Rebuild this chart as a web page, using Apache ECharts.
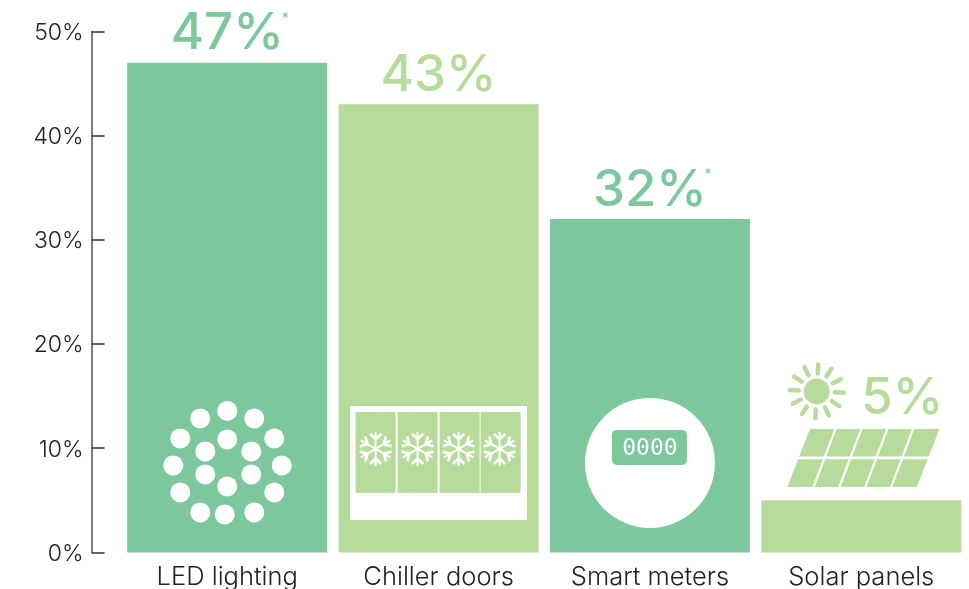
<!DOCTYPE html>
<html>
<head>
<meta charset="utf-8">
<style>html,body{margin:0;padding:0;background:#fff}#chart{width:969px;height:589px}</style>
<script src="https://cdn.jsdelivr.net/npm/echarts@6/dist/echarts.min.js"></script>
</head>
<body>
<div id="chart"></div>
<script>
const categories = ['LED lighting', 'Chiller doors', 'Smart meters', 'Solar panels'];
const savings = [47, 43, 32, 5];
const footnoted = [true, false, true, false];
const yTicks = [0, 10, 20, 30, 40, 50];

const GREEN = '#7DC79C';
const LIME = '#B7DB9A';
const barColors = [GREEN, LIME, GREEN, LIME];
const FONT = 'Inter, "Open Sans", sans-serif';

// LED cluster: bulb centres relative to the bar's centre and baseline
function ledIcon(cx, by) {
  const bulbs = [[0,-141.5],[-27,-134],[27,-134],[-47,-114],[47,-114],[0,-113],[-22,-101],[24,-101],
    [-54,-87],[54.5,-87],[-22,-78],[24,-78],[0,-66],[-47,-60],[47,-60],[-27,-40],[-2.5,-38],[27,-40]];
  return bulbs.map(b => ({
    type: 'circle',
    shape: { cx: cx + b[0], cy: by + b[1], r: 10 },
    style: { fill: '#fff' }
  }));
}

// One six-armed snowflake built from stroked segments
function snowflake(x, y, color) {
  const out = [];
  const seg = (x1, y1, x2, y2, w) => out.push({
    type: 'line',
    shape: { x1, y1, x2, y2 },
    style: { stroke: color, lineWidth: w }
  });
  for (let k = 0; k < 6; k++) {
    const a = Math.PI / 2 + k * Math.PI / 3;
    const ex = x + 17 * Math.cos(a), ey = y - 17 * Math.sin(a);
    seg(x, y, ex, ey, 2);
    const mx = x + 9.5 * Math.cos(a), my = y - 9.5 * Math.sin(a);
    [-1, 1].forEach(s => {
      const b = a + s * Math.PI / 4;
      seg(mx, my, mx + 8 * Math.cos(b), my - 8 * Math.sin(b), 2.7);
    });
  }
  return out;
}

// Chiller cabinet with four glass doors
function chillerIcon(cx, by) {
  const kids = [{
    type: 'rect',
    shape: { x: cx - 88.6, y: by - 146.5, width: 177, height: 114 },
    style: { fill: '#fff' }
  }];
  [-83, -41, 1, 42].forEach(dx => {
    kids.push({
      type: 'rect',
      shape: { x: cx + dx, y: by - 140.5, width: 40, height: 81 },
      style: { fill: LIME }
    });
  });
  [-63, -21, 20, 61].forEach(dx => {
    kids.push(...snowflake(cx + dx, by - 103.5, '#fff'));
  });
  return kids;
}

// Smart meter dial with its digital read-out
function meterIcon(cx, by) {
  return [
    { type: 'circle', shape: { cx, cy: by - 89.5, r: 65 }, style: { fill: '#fff' } },
    {
      type: 'rect',
      shape: { x: cx - 38, y: by - 122.5, width: 75, height: 35, r: 5 },
      style: { fill: GREEN }
    },
    {
      type: 'text',
      style: {
        x: cx, y: by - 103, text: '0000', fill: '#fff',
        font: '23px "DejaVu Sans Mono", monospace',
        align: 'center', verticalAlign: 'middle'
      }
    }
  ];
}

// Sun and tilted solar panel above the short bar
function solarIcon(cx, by) {
  const kids = [];
  const sx = cx - 44.5, sy = by - 161;
  kids.push({ type: 'circle', shape: { cx: sx, cy: sy, r: 13 }, style: { fill: LIME } });
  for (let k = 0; k < 12; k++) {
    const a = (k * 30 + 3) * Math.PI / 180;
    kids.push({
      type: 'line',
      shape: {
        x1: sx + 18 * Math.sin(a), y1: sy - 18 * Math.cos(a),
        x2: sx + 27 * Math.sin(a), y2: sy - 27 * Math.cos(a)
      },
      style: { stroke: LIME, lineWidth: 4.5, lineCap: 'round' }
    });
  }
  const top = by - 123.5, bottom = by - 65.5, skew = 22.7;
  const left = cx - 74, span = 129.5;
  kids.push({
    type: 'polygon',
    shape: { points: [[left + skew, top], [left + skew + span, top], [left + span, bottom], [left, bottom]] },
    style: { fill: LIME }
  });
  kids.push({
    type: 'line',
    shape: { x1: left, y1: (top + bottom) / 2, x2: left + skew + span, y2: (top + bottom) / 2 },
    style: { stroke: '#fff', lineWidth: 2.6 }
  });
  for (let c = 1; c < 5; c++) {
    const off = left + span * c / 5;
    kids.push({
      type: 'line',
      shape: { x1: off, y1: bottom + 1, x2: off + skew, y2: top - 1 },
      style: { stroke: '#fff', lineWidth: 2.2 }
    });
  }
  return kids;
}

const iconBuilders = [ledIcon, chillerIcon, meterIcon, solarIcon];

const chart = echarts.init(document.getElementById('chart'), null, { renderer: 'canvas' });

chart.setOption({
  animation: false,
  backgroundColor: '#fff',
  grid: { left: 121.6, right: 2.07, top: 31.4, bottom: 36.6, outerBoundsMode: 'none' },
  xAxis: {
    type: 'category',
    data: categories,
    axisLine: { show: false },
    axisTick: { show: false },
    axisLabel: { color: '#222', fontFamily: FONT, fontSize: 25.5, fontWeight: 300, margin: 12, interval: 0 }
  },
  yAxis: {
    type: 'value',
    min: yTicks[0],
    max: yTicks[yTicks.length - 1],
    interval: yTicks[1] - yTicks[0],
    offset: 30,
    splitLine: { show: false },
    axisLine: { show: true, lineStyle: { color: '#555', width: 1.5 } },
    axisTick: { show: true, inside: true, length: 13, lineStyle: { color: '#333', width: 1.5 } },
    axisLabel: {
      color: '#222', fontFamily: FONT, fontSize: 23, fontWeight: 300, margin: 8,
      verticalAlign: 'top', lineHeight: 3,
      formatter: v => v + '%'
    }
  },
  series: [
    {
      type: 'bar',
      barWidth: 200,
      data: savings.map((v, i) => ({
        value: v,
        itemStyle: { color: barColors[i] },
        label: {
          color: barColors[i],
          offset: i === 3 ? [41, -73] : [0, 0]
        }
      })),
      label: {
        show: true,
        position: 'top',
        distance: 3,
        fontFamily: FONT,
        fontSize: 51,
        fontWeight: 550,
        formatter: p => p.value + '%'
      }
    },
    {
      type: 'custom',
      silent: true,
      z: 5,
      data: savings.map((v, i) => [i, v]),
      renderItem(params, api) {
        const i = api.value(0);
        const [cx, by] = api.coord([i, 0]);
        const top = api.coord([i, api.value(1)])[1];
        const children = iconBuilders[i](cx, by);
        if (footnoted[i]) {
          children.push({
            type: 'text',
            style: {
              x: cx + 58, y: top - 44, text: '*', fill: barColors[i],
              font: '15px ' + FONT, align: 'center', verticalAlign: 'middle'
            }
          });
        }
        return { type: 'group', children };
      }
    }
  ]
});
</script>
</body>
</html>
